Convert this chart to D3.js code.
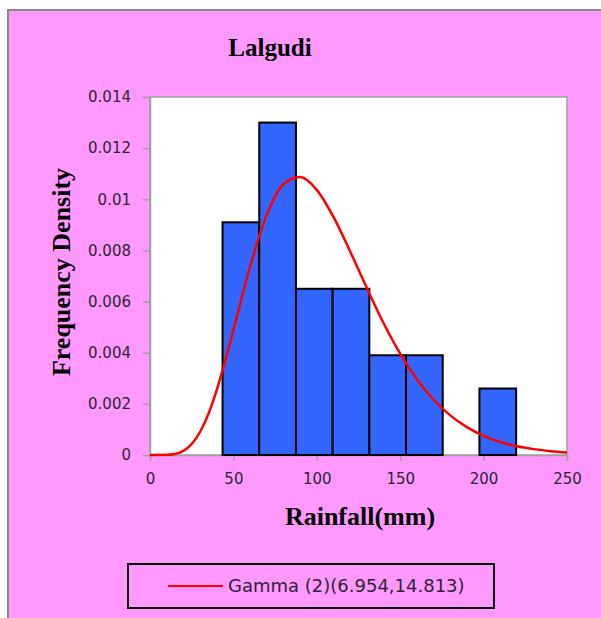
<!DOCTYPE html>
<html>
<head>
<meta charset="utf-8">
<script src="https://cdn.jsdelivr.net/npm/d3@7"></script>
<style>
  body { margin: 0; background: #fff; }
  svg { display: block; }
</style>
</head>
<body>
<div id="chart"></div>
<script>
// histogram bins (rainfall, mm) and frequency density
var binEdges = [43.5, 65.5, 87.5, 109.5, 131.5, 153.5, 175.5, 197.5, 219.5];
var density = [0.0091, 0.013, 0.0065, 0.0065, 0.0039, 0.0039, 0, 0.0026];

// fitted curve
var curveX = [0, 10, 15, 20, 25, 30, 35, 40, 50, 60, 70, 80, 90, 100, 110, 120, 130, 140, 150, 160, 170, 180, 190, 200, 210, 220, 230, 240, 250];
var curveY = [0, 0.000005, 0.00004, 0.00016, 0.00043, 0.0009, 0.0016, 0.00254, 0.00489, 0.00737, 0.00939, 0.01059, 0.01087, 0.01037, 0.00931, 0.00796, 0.00653, 0.00516, 0.00396, 0.00296, 0.00216, 0.00155, 0.00109, 0.00075, 0.00051, 0.00034, 0.00023, 0.00015, 0.0001];

var yTicks = [0, 0.002, 0.004, 0.006, 0.008, 0.01, 0.012, 0.014];
var yLabels = ["0", "0.002", "0.004", "0.006", "0.008", "0.01", "0.012", "0.014"];
var xTicks = [0, 50, 100, 150, 200, 250];

var title = "Lalgudi";
var xTitle = "Rainfall(mm)";
var yTitle = "Frequency Density";
var legendLabel = "Gamma (2)(6.954,14.813)";

var width = 601, height = 618;
var plot = { left: 150, top: 97, right: 567, bottom: 455 };

var svg = d3.select("#chart").append("svg")
  .attr("width", width)
  .attr("height", height);

// chart area
svg.append("rect")
  .attr("x", 8).attr("y", 10)
  .attr("width", 620).attr("height", 640)
  .attr("fill", "#ff99ff")
  .attr("stroke", "#888")
  .attr("stroke-width", 2);

var x = d3.scaleLinear().domain([0, 250]).range([plot.left, plot.right]);
var y = d3.scaleLinear().domain([0, 0.014]).range([plot.bottom, plot.top]);

// plot area
svg.append("rect")
  .attr("x", plot.left).attr("y", plot.top)
  .attr("width", plot.right - plot.left)
  .attr("height", plot.bottom - plot.top)
  .attr("fill", "#fff")
  .attr("stroke", "#a0a0a0")
  .attr("stroke-width", 1.5);

// axes
var yAxis = svg.append("g")
  .attr("transform", "translate(" + plot.left + ",0)")
  .call(d3.axisLeft(y).tickValues(yTicks).tickSize(7).tickPadding(12)
    .tickFormat(function(d, i) { return yLabels[i]; }));

var xAxis = svg.append("g")
  .attr("transform", "translate(0," + plot.bottom + ")")
  .call(d3.axisBottom(x).tickValues(xTicks).tickSize(6).tickPadding(12)
    .tickFormat(d3.format("d")));

[yAxis, xAxis].forEach(function(a) {
  a.select(".domain").attr("stroke", "#a0a0a0").attr("stroke-width", 1.5);
  a.selectAll(".tick line").attr("stroke", "#a0a0a0").attr("stroke-width", 1.5);
  a.selectAll(".tick text")
    .attr("fill", "#2b2433")
    .style("font-family", "DejaVu Sans")
    .style("font-size", "15px");
});

// bars
var bins = density.map(function(d, i) {
  return { x0: binEdges[i], x1: binEdges[i + 1], v: d };
}).filter(function(b) { return b.v > 0; });

svg.selectAll(".bar")
  .data(bins)
  .enter().append("rect")
  .attr("class", "bar")
  .attr("x", function(d) { return x(d.x0); })
  .attr("y", function(d) { return y(d.v); })
  .attr("width", function(d) { return x(d.x1) - x(d.x0); })
  .attr("height", function(d) { return y(0) - y(d.v); })
  .attr("fill", "#3366ff")
  .attr("stroke", "#000")
  .attr("stroke-width", 2);

// gamma curve
var pts = curveX.map(function(d, i) { return [d, curveY[i]]; });
var line = d3.line()
  .x(function(d) { return x(d[0]); })
  .y(function(d) { return y(d[1]); })
  .curve(d3.curveMonotoneX);

svg.append("path")
  .datum(pts)
  .attr("d", line)
  .attr("fill", "none")
  .attr("stroke", "#ff0000")
  .attr("stroke-width", 2.5);

// titles
svg.append("text")
  .attr("x", 270).attr("y", 56)
  .attr("text-anchor", "middle")
  .style("font-family", "Liberation Serif")
  .style("font-weight", "bold")
  .style("font-size", "25px")
  .text(title);

svg.append("text")
  .attr("x", 360).attr("y", 525)
  .attr("text-anchor", "middle")
  .style("font-family", "Liberation Serif")
  .style("font-weight", "bold")
  .style("font-size", "26px")
  .text(xTitle);

svg.append("text")
  .attr("transform", "translate(70,272) rotate(-90)")
  .attr("text-anchor", "middle")
  .style("font-family", "Liberation Serif")
  .style("font-weight", "bold")
  .style("font-size", "26px")
  .text(yTitle);

// legend
var legend = svg.append("g");
legend.append("rect")
  .attr("x", 128).attr("y", 564)
  .attr("width", 366).attr("height", 44)
  .attr("fill", "none")
  .attr("stroke", "#000")
  .attr("stroke-width", 2);
legend.append("line")
  .attr("x1", 168).attr("x2", 223)
  .attr("y1", 586).attr("y2", 586)
  .attr("stroke", "#ff0000")
  .attr("stroke-width", 2);
legend.append("text")
  .attr("x", 228).attr("y", 592)
  .attr("fill", "#2b2433")
  .style("font-family", "DejaVu Sans")
  .style("font-size", "18px")
  .text(legendLabel);
</script>
</body>
</html>
